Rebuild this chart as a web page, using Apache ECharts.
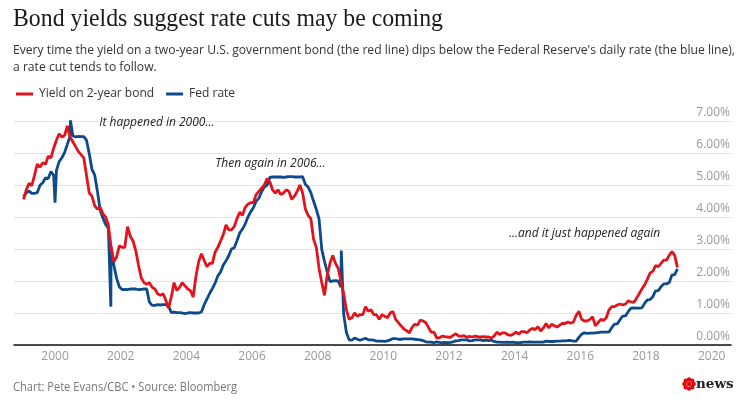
<!DOCTYPE html>
<html>
<head>
<meta charset="utf-8">
<script src="https://cdn.jsdelivr.net/npm/echarts@6/dist/echarts.min.js"></script>
<style>
html,body{margin:0;padding:0;background:#fff;}
#chart{width:749px;height:411px;}
</style>
</head>
<body>
<div id="chart"></div>
<script>
// ---- DATA (monthly, starting January 1999) ----
const startYear = 1999;
const bondYield = [
  4.55, 4.85, 5.05, 4.98, 5.30, 5.65, 5.55, 5.70, 5.65, 5.90, 5.85, 6.15,
  6.40, 6.60, 6.50, 6.55, 6.85, 6.50, 6.35, 6.20, 6.05, 5.95, 5.85, 5.30,
  4.75, 4.65, 4.35, 4.25, 4.30, 4.10, 4.00, 3.75, 3.05, 2.60, 2.75, 3.10,
  3.05, 3.05, 3.70, 3.40, 3.25, 2.95, 2.50, 2.10, 1.95, 1.90, 1.95, 1.80,
  1.75, 1.60, 1.55, 1.60, 1.40, 1.15, 1.50, 1.95, 1.70, 1.80, 1.95, 1.85,
  1.75, 1.70, 1.50, 2.15, 2.60, 2.85, 2.65, 2.45, 2.55, 2.55, 2.90, 3.05,
  3.25, 3.45, 3.75, 3.60, 3.60, 3.70, 3.95, 4.15, 4.05, 4.30, 4.40, 4.45,
  4.45, 4.70, 4.80, 4.90, 5.00, 5.20, 5.10, 4.85, 4.75, 4.85, 4.70, 4.75,
  4.85, 4.80, 4.55, 4.65, 4.80, 5.00, 4.75, 4.25, 4.05, 3.95, 3.30, 3.05,
  2.40, 1.95, 1.55, 2.20, 2.55, 2.80, 2.55, 2.40, 2.00, 1.60, 1.10, 0.80,
  0.85, 1.00, 0.90, 0.95, 0.95, 1.20, 1.05, 1.10, 0.95, 0.95, 0.80, 0.95,
  0.90, 0.85, 1.00, 1.05, 0.80, 0.70, 0.60, 0.50, 0.45, 0.38, 0.55, 0.65,
  0.62, 0.78, 0.75, 0.70, 0.55, 0.40, 0.40, 0.22, 0.22, 0.28, 0.26, 0.25,
  0.24, 0.30, 0.35, 0.28, 0.28, 0.29, 0.24, 0.27, 0.25, 0.28, 0.26, 0.25,
  0.26, 0.25, 0.25, 0.22, 0.28, 0.40, 0.33, 0.38, 0.38, 0.32, 0.30, 0.34,
  0.40, 0.34, 0.42, 0.42, 0.38, 0.47, 0.52, 0.48, 0.57, 0.44, 0.53, 0.67,
  0.53, 0.65, 0.60, 0.56, 0.62, 0.68, 0.67, 0.72, 0.68, 0.72, 0.93, 1.05,
  0.80, 0.75, 0.75, 0.80, 0.88, 0.60, 0.70, 0.80, 0.77, 0.85, 1.10, 1.20,
  1.20, 1.25, 1.28, 1.25, 1.28, 1.38, 1.35, 1.33, 1.45, 1.60, 1.75, 1.88,
  2.05, 2.25, 2.30, 2.48, 2.45, 2.55, 2.65, 2.65, 2.80, 2.92, 2.80, 2.42
];
const fedRate = [
  4.63, 4.76, 4.81, 4.74, 4.74, 4.76, 4.99, 5.07, 5.22, 5.20, 5.42, 5.30,
  5.45, 5.73, 5.85, 6.02, 6.27, 6.53, 6.54, 6.50, 6.52, 6.51, 6.51, 6.40,
  5.98, 5.49, 5.31, 4.80, 4.21, 3.97, 3.77, 3.65, 3.07, 2.49, 2.09, 1.82,
  1.73, 1.74, 1.73, 1.75, 1.75, 1.75, 1.73, 1.74, 1.75, 1.75, 1.34, 1.24,
  1.24, 1.26, 1.25, 1.26, 1.26, 1.22, 1.01, 1.03, 1.01, 1.01, 1.00, 0.98,
  1.00, 1.01, 1.00, 1.00, 1.00, 1.03, 1.26, 1.43, 1.61, 1.76, 1.93, 2.16,
  2.28, 2.50, 2.63, 2.79, 3.00, 3.04, 3.26, 3.50, 3.62, 3.78, 4.00, 4.16,
  4.29, 4.49, 4.59, 4.79, 4.94, 4.99, 5.24, 5.25, 5.25, 5.25, 5.25, 5.24,
  5.25, 5.26, 5.26, 5.25, 5.25, 5.25, 5.26, 5.02, 4.94, 4.76, 4.49, 4.24,
  3.94, 2.98, 2.61, 2.28, 1.98, 2.00, 2.01, 2.00, 1.81, 0.97, 0.39, 0.16,
  0.15, 0.22, 0.18, 0.15, 0.18, 0.21, 0.16, 0.16, 0.15, 0.12, 0.12, 0.12,
  0.11, 0.13, 0.16, 0.20, 0.20, 0.18, 0.18, 0.19, 0.19, 0.19, 0.19, 0.18,
  0.17, 0.16, 0.14, 0.10, 0.09, 0.09, 0.07, 0.10, 0.08, 0.07, 0.08, 0.07,
  0.08, 0.10, 0.13, 0.14, 0.16, 0.16, 0.16, 0.13, 0.14, 0.16, 0.16, 0.16,
  0.14, 0.15, 0.14, 0.15, 0.11, 0.09, 0.09, 0.08, 0.08, 0.09, 0.08, 0.09,
  0.07, 0.07, 0.08, 0.09, 0.09, 0.10, 0.09, 0.09, 0.09, 0.09, 0.09, 0.12,
  0.11, 0.11, 0.11, 0.12, 0.12, 0.13, 0.13, 0.14, 0.14, 0.12, 0.12, 0.24,
  0.34, 0.38, 0.36, 0.37, 0.37, 0.38, 0.39, 0.40, 0.40, 0.40, 0.41, 0.54,
  0.65, 0.66, 0.79, 0.90, 0.91, 1.04, 1.15, 1.16, 1.15, 1.15, 1.16, 1.30,
  1.41, 1.42, 1.51, 1.69, 1.70, 1.82, 1.91, 1.91, 1.95, 2.19, 2.20, 2.38
];
// short-lived daily spikes in the Fed rate: [decimal year, value]
const fedSpikeYears = [2000.0, 2000.47, 2001.70, 2008.72];
const fedSpikeValues = [4.45, 7.02, 1.20, 2.95];
const yearLabels = [2000, 2002, 2004, 2006, 2008, 2010, 2012, 2014, 2016, 2018, 2020];
const yTicks = [0, 1, 2, 3, 4, 5, 6, 7];
const annoText = ['It happened in 2000...', 'Then again in 2006...', '...and it just happened again'];
const annoYear = [2003.1, 2006.56, 2016.13];
const annoValue = [6.96, 5.67, 3.48];

// ---- BUILD ----
const RED = '#e3131c', BLUE = '#0b4a8c';
function monthX(i) { return startYear + (i + 0.5) / 12; }
const redData = bondYield.map((v, i) => [monthX(i), v]);
let blueData = fedRate.map((v, i) => [monthX(i), v]);
fedSpikeYears.forEach((x, k) => blueData.push([x, fedSpikeValues[k]]));
blueData.sort((a, b) => a[0] - b[0]);

const SANS = '"Open Sans", sans-serif';
const chart = echarts.init(document.getElementById('chart'), null, {renderer: 'canvas'});

chart.setOption({
  animation: false,
  backgroundColor: '#fff',
  grid: {left: 14, right: 18, top: 121, bottom: 66, containLabel: false},
  legend: {
    left: 11, top: 83,
    data: ['Yield on 2-year bond', 'Fed rate'],
    icon: 'rect', itemWidth: 17, itemHeight: 3, itemGap: 12,
    textStyle: {color: '#333', fontSize: 12, fontFamily: SANS, padding: [0, 0, 0, 1]}
  },
  xAxis: {
    type: 'value', min: 1998.75, max: 2020.59,
    axisLine: {show: true, lineStyle: {color: '#111', width: 1.5}},
    axisTick: {show: false},
    splitLine: {show: false},
    axisLabel: {
      customValues: yearLabels,
      formatter: v => String(Math.round(v)),
      color: '#999', fontSize: 12, fontFamily: SANS, margin: 6
    }
  },
  yAxis: {
    type: 'value', position: 'right', min: 0, max: 7, interval: 1,
    axisLine: {show: false}, axisTick: {show: false},
    splitLine: {lineStyle: {color: '#e3e3e3', width: 1}},
    axisLabel: {
      inside: true, margin: 1,
      customValues: yTicks,
      formatter: v => v.toFixed(2) + '%',
      verticalAlign: 'bottom', lineHeight: 13, padding: [0, 0, 2, 0],
      color: '#999', fontSize: 12, fontFamily: SANS
    }
  },
  series: [
    {name: 'Fed rate', type: 'line', data: blueData, showSymbol: false, symbol: 'none',
     lineStyle: {color: BLUE, width: 2.8}, itemStyle: {color: BLUE}, z: 2},
    {name: 'Yield on 2-year bond', type: 'line', data: redData, showSymbol: false, symbol: 'none',
     lineStyle: {color: RED, width: 2.8}, itemStyle: {color: RED}, z: 3}
  ]
});

// text helpers
const mctx = document.createElement('canvas').getContext('2d');
function measure(text, font) { mctx.font = font; return mctx.measureText(text).width; }
function textEl(text, font, x, y, scale, fill, align) {
  return {
    type: 'text', x: x, y: y, scaleX: scale, originX: 0, silent: true,
    style: {text: text, font: font, fill: fill, textAlign: align || 'left', textVerticalAlign: 'middle'}
  };
}

const graphics = [];
const titleFont = '26px "Liberation Serif", serif';
const titleText = 'Bond yields suggest rate cuts may be coming';
graphics.push(textEl(titleText, titleFont, 13, 19, 430 / measure(titleText, titleFont), '#1a1a1a'));

const subFont = '13px ' + SANS;
const sub1 = "Every time the yield on a two-year U.S. government bond (the red line) dips below the Federal Reserve's daily rate (the blue line),";
const subScale = 722 / measure(sub1, subFont);
graphics.push(textEl(sub1, subFont, 13, 50, subScale, '#333'));
graphics.push(textEl('a rate cut tends to follow.', subFont, 13, 67, subScale, '#333'));

const footFont = '12px ' + SANS;
const foot = 'Chart: Pete Evans/CBC \u2022 Source: Bloomberg';
graphics.push(textEl(foot, footFont, 13, 388, 224 / measure(foot, footFont), '#777'));

annoText.forEach((t, i) => {
  const p = chart.convertToPixel({gridIndex: 0}, [annoYear[i], annoValue[i]]);
  graphics.push(textEl(t, 'italic 12px ' + SANS, p[0], p[1], 1, '#222', 'center'));
});

// CBC gem + wordmark
const gx = 689, gy = 384;
for (let k = 0; k < 8; k++) {
  const a = k * Math.PI / 4;
  graphics.push({type: 'circle', silent: true, shape: {cx: gx + Math.cos(a) * 4.6, cy: gy + Math.sin(a) * 4.6, r: 2.2}, style: {fill: '#e60505'}});
}
graphics.push({type: 'circle', silent: true, shape: {cx: gx, cy: gy, r: 2.3}, style: {fill: '#e60505'}});
graphics.push({type: 'text', silent: true, x: 696, y: 384,
  style: {text: 'news', font: 'bold 13.5px "DejaVu Serif", serif', fill: '#222', textVerticalAlign: 'middle'}});

chart.setOption({graphic: graphics});
</script>
</body>
</html>
